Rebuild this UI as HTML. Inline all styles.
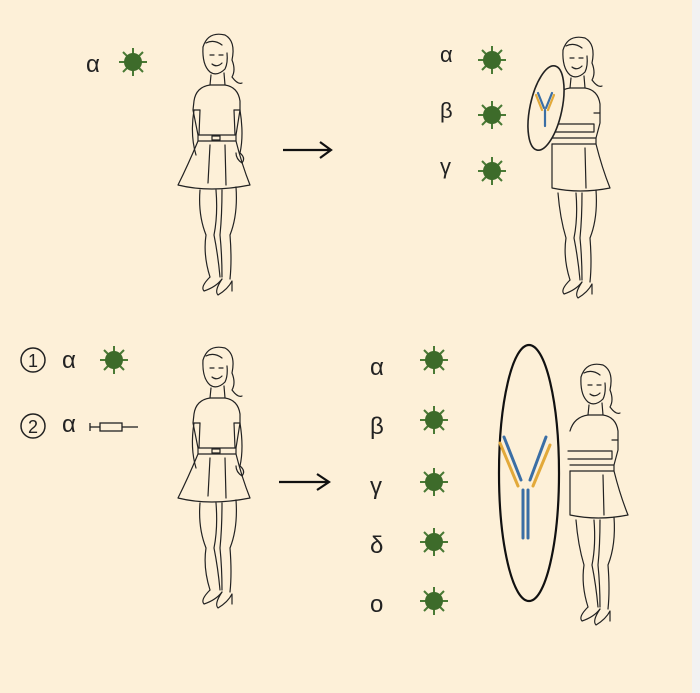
<!DOCTYPE html>
<html><head><meta charset="utf-8"><style>
html,body{margin:0;padding:0;background:#fdf0d8;}
body{width:700px;height:693px;position:relative;overflow:hidden;font-family:"Liberation Sans","DejaVu Sans",sans-serif;}
.strip{position:absolute;left:692px;top:0;width:8px;height:693px;background:#f2f2f2;}
</style></head><body>
<svg width="700" height="693" viewBox="0 0 700 693" xmlns="http://www.w3.org/2000/svg" style="position:absolute;left:0;top:0">
<defs>
<g id="v">
  <g stroke="#4a7a35" stroke-width="2" fill="#4a7a35">
    <line x1="0" y1="0" x2="0" y2="-14"/><line x1="0" y1="0" x2="0" y2="14"/>
    <line x1="0" y1="0" x2="-14" y2="0"/><line x1="0" y1="0" x2="14" y2="0"/>
    <line x1="0" y1="0" x2="10" y2="10"/><line x1="0" y1="0" x2="-10" y2="-10"/>
    <line x1="0" y1="0" x2="10" y2="-10"/><line x1="0" y1="0" x2="-10" y2="10"/>
  </g>
  <circle r="9" fill="#3d6b2a"/>
</g>
<g id="girl" fill="none" stroke="#222" stroke-width="1.2" stroke-linejoin="round" stroke-linecap="round">
  <!-- hair & head -->
  <path d="M33 22 Q38 6 55 10 Q66 16 62 35 Q66 45 62 52 Q68 60 72 58"/>
  <path d="M33 22 Q32 40 40 47 Q47 52 55 44 Q58 38 57 28"/>
  <path d="M36 18 Q44 14 52 20 M40 30 l4 0 M49 30 l4 0 M42 39 Q47 43 52 38"/>
  <!-- neck -->
  <path d="M41 50 L40 60 L55 60 L54 48"/>
  <!-- torso -->
  <path d="M40 60 Q26 62 24 76 L23 85 L28 110 M55 60 Q68 62 70 76 L70 85 L66 110"/>
  <path d="M24 85 L30 85 M64 85 L70 85"/>
  <path d="M30 85 L29 110 M64 85 L65 110"/>
  <!-- belt -->
  <path d="M28 110 L66 110 L66 116 L28 116 Z M42 111 L50 111 L50 115 L42 115 Z"/>
  <!-- arms hanging -->
  <path d="M24 85 Q20 110 26 130 M70 85 Q74 110 70 128 Q76 133 72 138 Q66 134 66 128"/>
  <!-- skirt -->
  <path d="M28 116 Q18 140 8 160 Q40 168 80 160 Q72 140 66 116"/>
  <path d="M40 120 L38 158 M55 120 L56 160"/>
  <!-- legs -->
  <path d="M30 165 Q28 190 36 210 Q33 230 40 252 M46 165 Q48 190 44 210 Q48 230 50 252"/>
  <path d="M52 165 Q52 190 50 210 Q52 230 52 252 M66 162 Q68 190 60 210 Q62 235 60 254"/>
  <!-- shoes -->
  <path d="M40 252 Q30 262 34 266 Q46 262 52 254"/>
  <path d="M52 254 Q44 266 48 270 Q58 264 62 256 L62 266"/>
</g>
<g id="sgirl" fill="none" stroke="#222" stroke-width="1.2" stroke-linejoin="round" stroke-linecap="round">
  <path d="M33 22 Q38 6 55 10 Q66 16 62 35 Q66 45 62 52 Q68 60 72 58"/>
  <path d="M33 22 Q32 40 40 47 Q47 52 55 44 Q58 38 57 28"/>
  <path d="M36 18 Q44 14 52 20 M40 30 l4 0 M49 30 l4 0 M42 39 Q47 43 52 38"/>
  <path d="M41 50 L40 60 L55 60 L54 48"/>
  <path d="M40 60 Q26 62 22 76 M55 60 Q68 62 70 76 L70 95 L66 110"/>
  <path d="M64 85 L70 85 M20 96 L64 96 L64 104 L20 104"/>
  <path d="M22 110 L66 110 L66 116 L22 116"/>
  <path d="M22 116 L22 160 Q50 166 80 160 Q72 140 66 116 M55 120 L56 160"/>
  <path d="M28 165 Q30 190 36 210 Q33 230 40 252 M46 165 Q48 190 44 210 Q48 230 50 252"/>
  <path d="M52 165 Q52 190 50 210 Q52 230 52 252 M66 162 Q68 190 60 210 Q62 235 60 254"/>
  <path d="M40 252 Q30 262 34 266 Q46 262 52 254"/>
  <path d="M52 254 Q44 266 48 270 Q58 264 62 256 L62 266"/>
</g>
</defs>

<!-- top row -->
<text x="86" y="72" font-size="24" fill="#222" font-family="Liberation Sans, sans-serif">α</text>
<use href="#v" x="133" y="62"/>
<use href="#girl" x="170" y="25"/>
<path d="M283 150 L330 150 M320 142 L331 150 L320 158" stroke="#111" stroke-width="2.2" fill="none"/>

<text x="440" y="62" font-size="22" fill="#222">α</text>
<text x="440" y="118" font-size="22" fill="#222">β</text>
<text x="440" y="174" font-size="22" fill="#222">γ</text>
<use href="#v" x="492" y="60"/>
<use href="#v" x="492" y="115"/>
<use href="#v" x="492" y="171"/>
<use href="#sgirl" x="530" y="28"/>
<ellipse cx="546" cy="108" rx="16" ry="43" transform="rotate(12 546 108)" fill="#fdf0d8" stroke="#222" stroke-width="1.6"/>
<g stroke-width="2.2" stroke-linecap="round">
  <line x1="536" y1="95" x2="542" y2="110" stroke="#e2a93a"/><line x1="538" y1="93" x2="544" y2="108" stroke="#3a6ea5"/>
  <line x1="554" y1="95" x2="548" y2="110" stroke="#e2a93a"/><line x1="552" y1="93" x2="546" y2="108" stroke="#3a6ea5"/>
  <line x1="545" y1="110" x2="545" y2="126" stroke="#3a6ea5"/>
</g>

<!-- bottom row -->
<circle cx="33" cy="360" r="12" fill="none" stroke="#222" stroke-width="1.5"/>
<text x="33" y="367" font-size="18" fill="#222" text-anchor="middle">1</text>
<text x="62" y="368" font-size="24" fill="#222">α</text>
<use href="#v" x="114" y="360"/>
<circle cx="33" cy="426" r="12" fill="none" stroke="#222" stroke-width="1.5"/>
<text x="33" y="433" font-size="18" fill="#222" text-anchor="middle">2</text>
<text x="62" y="432" font-size="24" fill="#222">α</text>
<g stroke="#222" stroke-width="1.3" fill="none">
  <line x1="90" y1="427" x2="100" y2="427"/><line x1="90" y1="423" x2="90" y2="431"/>
  <rect x="100" y="423" width="22" height="8"/><line x1="122" y1="427" x2="138" y2="427"/>
</g>
<use href="#girl" x="170" y="338"/>
<path d="M279 482 L328 482 M317 474 L329 482 L317 490" stroke="#111" stroke-width="2.2" fill="none"/>

<text x="370" y="375" font-size="24" fill="#222">α</text>
<text x="370" y="434" font-size="24" fill="#222">β</text>
<text x="370" y="494" font-size="24" fill="#222">γ</text>
<text x="370" y="553" font-size="24" fill="#222">δ</text>
<text x="370" y="612" font-size="24" fill="#222">ο</text>
<use href="#v" x="434" y="360"/>
<use href="#v" x="434" y="420"/>
<use href="#v" x="434" y="482"/>
<use href="#v" x="434" y="542"/>
<use href="#v" x="434" y="601"/>

<use href="#sgirl" x="548" y="355"/>
<ellipse cx="529" cy="473" rx="30" ry="128" fill="#fdf0d8" stroke="#111" stroke-width="2.2"/>
<g stroke-width="3" stroke-linecap="round">
  <line x1="500" y1="443" x2="518" y2="486" stroke="#e2a93a"/><line x1="504" y1="437" x2="521" y2="480" stroke="#3a6ea5"/>
  <line x1="550" y1="445" x2="533" y2="486" stroke="#e2a93a"/><line x1="546" y1="437" x2="530" y2="480" stroke="#3a6ea5"/>
  <line x1="523" y1="490" x2="523" y2="538" stroke="#3a6ea5"/><line x1="528" y1="490" x2="528" y2="538" stroke="#3a6ea5"/>
</g>
</svg>
<div class="strip"></div>
</body></html>
